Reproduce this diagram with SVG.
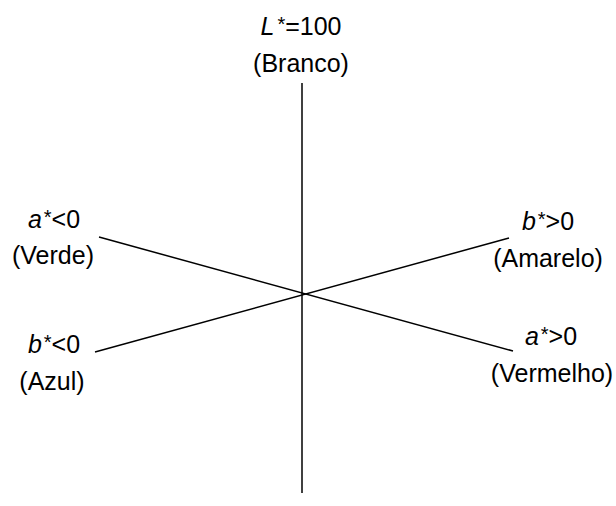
<svg xmlns="http://www.w3.org/2000/svg" width="616" height="506" viewBox="0 0 616 506">
<style>
text{font-family:"Liberation Sans",Arial,sans-serif;font-size:25px;fill:#000;text-anchor:middle}
.i{font-style:italic}
.s{font-size:20px}
.ax{stroke:#000;stroke-width:1.5;fill:none}
</style>
<rect width="616" height="506" fill="#fff"/>
<g id="connectors">
<line class="ax" x1="302" y1="83" x2="302" y2="493"/>
<line class="ax" x1="99" y1="237" x2="513" y2="351"/>
<line class="ax" x1="95" y1="352" x2="509" y2="238"/>
</g>
<g id="L">
<text x="301" y="35"><tspan class="i">L</tspan><tspan class="s" dx="3" dy="-4">*</tspan><tspan dy="4">=100</tspan></text>
<text x="301" y="72">(Branco)</text>
</g>
<g id="a-neg">
<text x="54" y="228"><tspan class="i">a</tspan><tspan class="s" dx="2" dy="-4">*</tspan><tspan dy="4">&lt;0</tspan></text>
<text x="53" y="264">(Verde)</text>
</g>
<g id="b-neg">
<text x="54" y="353"><tspan class="i">b</tspan><tspan class="s" dx="2" dy="-4">*</tspan><tspan dy="4">&lt;0</tspan></text>
<text x="52" y="390">(Azul)</text>
</g>
<g id="b-pos">
<text x="548" y="230"><tspan class="i">b</tspan><tspan class="s" dx="2" dy="-4">*</tspan><tspan dy="4">&gt;0</tspan></text>
<text x="548" y="267">(Amarelo)</text>
</g>
<g id="a-pos">
<text x="551" y="345"><tspan class="i">a</tspan><tspan class="s" dx="2" dy="-4">*</tspan><tspan dy="4">&gt;0</tspan></text>
<text x="552" y="382">(Vermelho)</text>
</g>
</svg>
